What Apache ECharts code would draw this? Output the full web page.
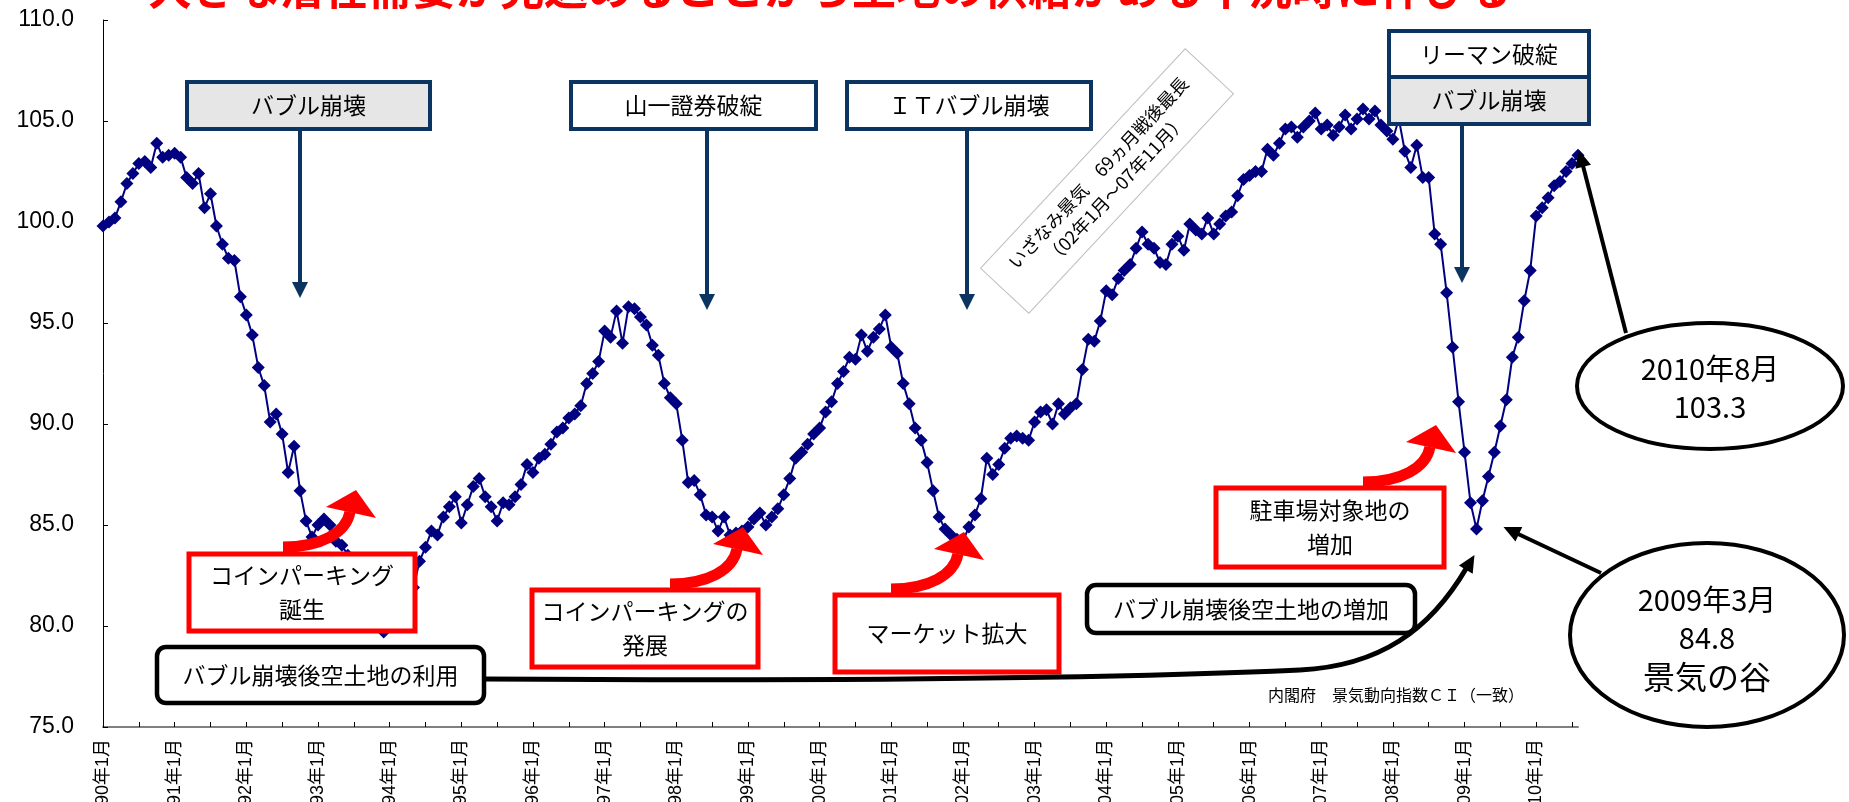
<!DOCTYPE html>
<html>
<head>
<meta charset="utf-8">
<script src="https://cdn.jsdelivr.net/npm/echarts@6/dist/echarts.min.js"></script>
<style>
  html, body { margin: 0; padding: 0; background: #ffffff; }
  #chart { width: 1849px; height: 802px; }
</style>
</head>
<body>
<div id="chart"></div>
<script>
// 景気動向指数CI（一致）月次, 1990年1月～2010年8月
const ci1990 = [99.8, 100.0, 100.2, 101.0, 101.9, 102.4, 102.9, 103.0, 102.7, 103.9, 103.2, 103.3];
const ci1991 = [103.4, 103.2, 102.2, 101.9, 102.4, 100.7, 101.4, 99.8, 98.9, 98.2, 98.1, 96.3];
const ci1992 = [95.4, 94.4, 92.8, 91.9, 90.1, 90.5, 89.5, 87.6, 88.9, 86.7, 85.2, 84.4];
const ci1993 = [85.0, 85.3, 85.0, 84.2, 84.0, 83.5, 83.0, 82.3, 81.6, 81.0, 80.4, 79.7];
const ci1994 = [80.6, 80.9, 81.3, 81.6, 81.9, 83.2, 83.9, 84.7, 84.5, 85.4, 85.9, 86.4];
const ci1995 = [85.1, 86.0, 86.9, 87.3, 86.4, 85.9, 85.2, 86.1, 86.0, 86.4, 87.0, 88.0];
const ci1996 = [87.6, 88.3, 88.5, 89.0, 89.6, 89.8, 90.3, 90.5, 90.9, 92.0, 92.5, 93.1];
const ci1997 = [94.6, 94.3, 95.6, 94.0, 95.8, 95.7, 95.3, 94.9, 93.9, 93.4, 92.0, 91.3];
const ci1998 = [91.0, 89.2, 87.1, 87.2, 86.5, 85.5, 85.4, 84.7, 85.4, 84.5, 84.6, 84.7];
const ci1999 = [84.9, 85.3, 85.6, 85.0, 85.4, 85.8, 86.5, 87.3, 88.3, 88.6, 89.0, 89.5];
const ci2000 = [89.8, 90.6, 91.1, 92.0, 92.6, 93.3, 93.2, 94.4, 93.6, 94.3, 94.7, 95.4];
const ci2001 = [93.8, 93.5, 92.0, 91.0, 89.8, 89.2, 88.1, 86.7, 85.4, 84.8, 84.5, 84.3];
const ci2002 = [84.2, 84.9, 85.5, 86.3, 88.3, 87.5, 88.0, 88.8, 89.3, 89.4, 89.3, 89.2];
const ci2003 = [90.1, 90.6, 90.7, 90.0, 91.0, 90.5, 90.8, 91.0, 92.7, 94.2, 94.1, 95.1];
const ci2004 = [96.6, 96.4, 97.2, 97.6, 97.9, 98.7, 99.5, 98.9, 98.7, 98.0, 97.9, 98.9];
const ci2005 = [99.3, 98.6, 99.9, 99.6, 99.4, 100.2, 99.4, 99.9, 100.3, 100.5, 101.3, 102.1];
const ci2006 = [102.3, 102.5, 102.5, 103.6, 103.3, 103.9, 104.6, 104.7, 104.2, 104.7, 105.0, 105.4];
const ci2007 = [104.6, 104.8, 104.3, 104.7, 105.3, 104.6, 105.1, 105.6, 105.1, 105.5, 104.8, 104.5];
const ci2008 = [104.1, 105.1, 103.5, 102.7, 103.8, 102.2, 102.2, 99.4, 98.9, 96.5, 93.8, 91.1];
const ci2009 = [88.6, 86.1, 84.8, 86.2, 87.4, 88.6, 89.9, 91.2, 93.3, 94.3, 96.1, 97.6];
const ci2010 = [100.3, 100.7, 101.2, 101.8, 102.0, 102.5, 102.9, 103.3];

const ci = [].concat(ci1990, ci1991, ci1992, ci1993, ci1994, ci1995, ci1996, ci1997,
  ci1998, ci1999, ci2000, ci2001, ci2002, ci2003, ci2004, ci2005, ci2006, ci2007,
  ci2008, ci2009, ci2010);

// 月ラベル（"90年1月" 形式）
const firstYear = 1990;
const months = [];
for (let i = 0; i < ci.length; i++) {
  const y = firstYear + Math.floor(i / 12);
  const m = (i % 12) + 1;
  months.push(String(y % 100).padStart(2, '0') + '年' + m + '月');
}

// 注記で参照する月
const troughIndex = months.indexOf('09年3月');
const latestIndex = ci.length - 1;

const yMin = 75, yMax = 110, yStep = 5;

const JP = '"Noto Sans CJK JP", "Noto Sans CJK SC", sans-serif';
const NAVY = '#0c3461';
const RED = '#ff0000';
const Z = 50;

const chart = echarts.init(document.getElementById('chart'), null, { renderer: 'canvas' });

chart.setOption({
  animation: false,
  backgroundColor: '#ffffff',
  grid: { left: 103, right: 271, top: 20, bottom: 75, containLabel: false, outerBoundsMode: 'none' },
  xAxis: {
    type: 'category',
    data: months,
    boundaryGap: false,
    axisLine: { show: true, lineStyle: { color: '#808080', width: 2 } },
    axisTick: { show: true, inside: true, interval: 5, length: 5, lineStyle: { color: '#000', width: 1 } },
    axisLabel: {
      interval: 11, rotate: 90, margin: 12,
      fontSize: 18, color: '#000',
      fontFamily: '"Liberation Sans", "Noto Sans CJK JP", sans-serif'
    },
    splitLine: { show: false }
  },
  yAxis: {
    type: 'value',
    min: yMin, max: yMax, interval: yStep,
    axisLine: { show: true, lineStyle: { color: '#000', width: 1 } },
    axisTick: { show: true, inside: true, length: 5, lineStyle: { color: '#000' } },
    axisLabel: {
      margin: 29, fontSize: 23, color: '#000',
      fontFamily: '"Liberation Sans Narrow", "Liberation Sans", Arial, sans-serif',
      formatter: v => v.toFixed(1)
    },
    splitLine: { show: false }
  },
  series: [{
    type: 'line',
    data: ci,
    symbol: 'diamond',
    symbolSize: 13,
    showAllSymbol: true,
    itemStyle: { color: '#000080' },
    lineStyle: { color: '#000080', width: 2 },
    z: 2
  }]
});

// ---------- annotation helpers ----------
function arrowHead(tipX, tipY, fromX, fromY, len, halfW, color) {
  const dx = tipX - fromX, dy = tipY - fromY;
  const d = Math.hypot(dx, dy);
  const ux = dx / d, uy = dy / d;
  const bx = tipX - ux * len, by = tipY - uy * len;
  return {
    type: 'polygon', z: Z + 2,
    shape: { points: [[tipX, tipY], [bx - uy * halfW, by + ux * halfW], [bx + uy * halfW, by - ux * halfW]] },
    style: { fill: color }
  };
}

function straightArrow(x1, y1, x2, y2, width, color, len, halfW) {
  const d = Math.hypot(x2 - x1, y2 - y1);
  const ex = x2 - (x2 - x1) / d * (len - 2), ey = y2 - (y2 - y1) / d * (len - 2);
  return [
    { type: 'line', z: Z + 1, shape: { x1: x1, y1: y1, x2: ex, y2: ey }, style: { stroke: color, lineWidth: width } },
    arrowHead(x2, y2, x1, y1, len, halfW, color)
  ];
}

function labelBox(x, y, w, h, text, opts) {
  return [
    {
      type: 'rect', z: Z,
      shape: { x: x, y: y, width: w, height: h, r: opts.r || 0 },
      style: { fill: opts.fill || '#fff', stroke: opts.stroke, lineWidth: opts.lineWidth }
    },
    {
      type: 'text', z: Z + 1,
      style: {
        text: text, x: x + w / 2, y: y + h / 2,
        align: 'center', verticalAlign: 'middle',
        fontSize: opts.fontSize || 23, fontFamily: JP, fill: '#000',
        lineHeight: opts.lineHeight || 34
      }
    }
  ];
}

// 赤い曲線矢印（枠の上辺から右上へ）
function redCurveArrow(ox, oy) {
  return [
    {
      type: 'bezierCurve', z: Z + 1,
      shape: { x1: ox, y1: oy - 6, cpx1: ox + 38, cpy1: oy - 6, cpx2: ox + 63, cpy2: oy - 20, x2: ox + 67, y2: oy - 41 },
      style: { stroke: RED, lineWidth: 11, fill: 'none' }
    },
    {
      type: 'polygon', z: Z + 2,
      shape: { points: [[ox + 43, oy - 46], [ox + 73, oy - 63], [ox + 93, oy - 35]] },
      style: { fill: RED }
    }
  ];
}

function ellipseNote(cx, cy, rx, ry, lines) {
  const els = [{
    type: 'ellipse', z: Z,
    shape: { cx: cx, cy: cy, rx: rx, ry: ry },
    style: { fill: '#fff', stroke: '#000', lineWidth: 4 }
  }];
  lines.forEach(l => {
    els.push({
      type: 'text', z: Z + 1,
      style: { text: l.text, x: cx, y: l.y, align: 'center', verticalAlign: 'middle', fontSize: l.size, fontFamily: JP, fill: '#000' }
    });
  });
  return els;
}

// ---------- annotations ----------
const troughPx = chart.convertToPixel({ seriesIndex: 0 }, [troughIndex, ci[troughIndex]]);
const latestPx = chart.convertToPixel({ seriesIndex: 0 }, [latestIndex, ci[latestIndex]]);

const g = [];

// タイトル
g.push({
  type: 'text', z: Z,
  style: {
    text: '大きな潜在需要が見込めることから土地の供給がある不況時に伸びる',
    x: 830, y: -12, align: 'center', verticalAlign: 'middle',
    fontSize: 44, fontWeight: 'bold', fontFamily: JP, fill: RED
  }
});

// 出来事の枠と下向き矢印
const navy = { stroke: NAVY, lineWidth: 4 };
g.push(...labelBox(187, 82, 243, 47, 'バブル崩壊', Object.assign({ fill: '#e6e6e6' }, navy)));
g.push(...straightArrow(300, 129, 300, 298, 4, NAVY, 16, 8));
g.push(...labelBox(571, 82, 245, 47, '山一證券破綻', Object.assign({ fill: '#fff' }, navy)));
g.push(...straightArrow(707, 129, 707, 310, 4, NAVY, 16, 8));
g.push(...labelBox(847, 82, 244, 47, 'ＩＴバブル崩壊', Object.assign({ fill: '#fff' }, navy)));
g.push(...straightArrow(967, 129, 967, 310, 4, NAVY, 16, 8));
g.push(...labelBox(1389, 31, 200, 46, 'リーマン破綻', Object.assign({ fill: '#fff' }, navy)));
g.push(...labelBox(1389, 77, 200, 47, 'バブル崩壊', Object.assign({ fill: '#e6e6e6' }, navy)));
g.push(...straightArrow(1462, 124, 1462, 283, 4, NAVY, 16, 8));

// いざなみ景気（斜めの枠）
g.push({
  type: 'group', x: 1107, y: 181, rotation: 47 * Math.PI / 180, z: Z,
  children: [
    { type: 'rect', z: Z, shape: { x: -150, y: -33, width: 300, height: 66 }, style: { fill: '#fff', stroke: '#bfbfbf', lineWidth: 1 } },
    {
      type: 'text', z: Z + 1,
      style: {
        text: 'いざなみ景気　69ヵ月戦後最長\n（02年1月～07年11月）',
        x: 0, y: 0, align: 'center', verticalAlign: 'middle',
        fontSize: 18, lineHeight: 24, fontFamily: JP, fill: '#000'
      }
    }
  ]
});

// 赤枠と赤矢印
const red = { stroke: RED, lineWidth: 5, fill: '#fff' };
g.push(...labelBox(189, 554, 226, 77, 'コインパーキング\n誕生', red));
g.push(...redCurveArrow(283, 553));
g.push(...labelBox(532, 590, 226, 77, 'コインパーキングの\n発展', red));
g.push(...redCurveArrow(670, 590));
g.push(...labelBox(835, 595, 224, 77, 'マーケット拡大', red));
g.push(...redCurveArrow(891, 595));
g.push(...labelBox(1216, 488, 228, 79, '駐車場対象地の\n増加', red));
g.push(...redCurveArrow(1363, 488));

// 空土地の枠と長い曲線矢印
const blk = { stroke: '#000', lineWidth: 4.5, fill: '#fff', r: 9 };
g.push(...labelBox(157, 647, 327, 56, 'バブル崩壊後空土地の利用', blk));
g.push(...labelBox(1087, 585, 328, 48, 'バブル崩壊後空土地の増加', blk));
const curveTip = [troughPx[0] - 2, troughPx[1] + 26];
g.push({
  type: 'bezierCurve', z: Z + 1,
  shape: { x1: 484, y1: 679, cpx1: 800, cpy1: 681, cpx2: 1100, cpy2: 679, x2: 1300, y2: 670 },
  style: { stroke: '#000', lineWidth: 5, fill: 'none' }
});
g.push({
  type: 'bezierCurve', z: Z + 1,
  shape: { x1: 1300, y1: 670, cpx1: 1380, cpy1: 666, cpx2: 1430, cpy2: 630, x2: curveTip[0] - 8, y2: curveTip[1] + 13 },
  style: { stroke: '#000', lineWidth: 5, fill: 'none' }
});
g.push(arrowHead(curveTip[0], curveTip[1], 1430, 630, 17, 8, '#000'));

// 楕円の吹き出し
const latestLabel = months[latestIndex].replace(/^(\d\d)/, '20$1');
const troughLabel = months[troughIndex].replace(/^(\d\d)/, '20$1');
g.push(...straightArrow(1626, 333, latestPx[0] + 1, latestPx[1] - 5, 4, '#000', 17, 8));
g.push(...ellipseNote(1710, 386, 133, 63, [
  { text: latestLabel, y: 369, size: 29 },
  { text: ci[latestIndex].toFixed(1), y: 407, size: 29 }
]));
g.push(...straightArrow(1601, 573, troughPx[0] + 27, troughPx[1] - 2, 4, '#000', 17, 8));
g.push(...ellipseNote(1707, 635, 137, 92, [
  { text: troughLabel, y: 600, size: 29 },
  { text: ci[troughIndex].toFixed(1), y: 638, size: 29 },
  { text: '景気の谷', y: 677, size: 32 }
]));

// 出典
g.push({
  type: 'text', z: Z,
  style: {
    text: '内閣府　景気動向指数ＣＩ（一致）', x: 1268, y: 695,
    align: 'left', verticalAlign: 'middle', fontSize: 16, fontFamily: JP, fill: '#000'
  }
});

chart.setOption({ graphic: { elements: g } });
</script>
</body>
</html>
